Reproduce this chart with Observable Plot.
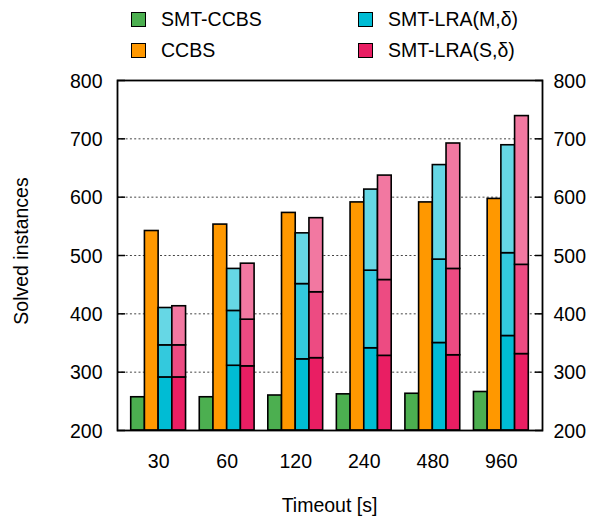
<!DOCTYPE html>
<html><head><meta charset="utf-8">
<script src="https://cdn.jsdelivr.net/npm/d3@7"></script>
<script src="https://cdn.jsdelivr.net/npm/@observablehq/plot@0.6"></script>
<style>
body{margin:0;background:#fff;}
#wrap{position:relative;width:590px;height:521px;font-family:"Liberation Sans",Arial,Helvetica,sans-serif;font-size:19.5px;color:#000;overflow:hidden;}
#wrap svg{position:absolute;left:0;top:0;}
.lg{position:absolute;white-space:nowrap;line-height:19px;}
.sw{position:absolute;width:15px;height:15px;box-sizing:border-box;border:1.5px solid #000;}
</style></head><body><div id="wrap"></div>
<script>
// ---- data ----
const timeouts = ["30", "60", "120", "240", "480", "960"];
const seriesNames = ["SMT-CCBS", "CCBS", "SMT-LRA(M,δ)", "SMT-LRA(S,δ)"];
const smtCcbs = [257, 257, 260, 262, 263, 266];
const ccbs = [542, 553, 573, 591, 591, 597];
const lraMLow = [291, 311, 322, 341, 350, 362];
const lraMMid = [346, 405, 451, 474, 493, 504];
const lraMTop = [410, 477, 538, 613, 655, 689];
const lraSLow = [291, 310, 324, 328, 329, 331];
const lraSMid = [346, 390, 437, 458, 477, 484];
const lraSTop = [413, 486, 564, 637, 692, 739];
const yTicks = [200, 300, 400, 500, 600, 700, 800];
const gridTicks = [300, 400, 500, 600, 700];
const yDomain = [200, 800];

// ---- styles ----
const colorKeys = ["SMT-CCBS", "CCBS", "M1", "M2", "M3", "S1", "S2", "S3"];
const colorRange = ["#4caf50", "#ff9800", "#00bcd4", "#33c9dd", "#66d7e5", "#e91e63", "#ed4b82", "#f278a1"];
const legendColors = ["#4caf50", "#ff9800", "#00bcd4", "#e91e63"];

// ---- build records ----
const slotsPerGroup = 5;
const records = [];
timeouts.forEach((t, g) => {
  const base = g * slotsPerGroup + 1;
  records.push({slot: base, y1: yDomain[0], y2: smtCcbs[g], key: "SMT-CCBS"});
  records.push({slot: base + 1, y1: yDomain[0], y2: ccbs[g], key: "CCBS"});
  const m = [yDomain[0], lraMLow[g], lraMMid[g], lraMTop[g]];
  const s = [yDomain[0], lraSLow[g], lraSMid[g], lraSTop[g]];
  for (let i = 0; i < 3; i++) {
    records.push({slot: base + 2, y1: m[i], y2: m[i + 1], key: "M" + (i + 1)});
    records.push({slot: base + 3, y1: s[i], y2: s[i + 1], key: "S" + (i + 1)});
  }
});
const nSlots = timeouts.length * slotsPerGroup + 1;
const groupCenters = timeouts.map((t, g) => g * slotsPerGroup + 3);

const chart = Plot.plot({
  width: 590,
  height: 521,
  marginLeft: 117,
  marginRight: 48,
  marginTop: 80,
  marginBottom: 91,
  style: {fontFamily: '"Liberation Sans", Arial, Helvetica, sans-serif', fontSize: "19.5px", background: "transparent", color: "#000"},
  x: {domain: [0, nSlots], axis: null},
  y: {domain: yDomain, axis: null},
  color: {type: "ordinal", domain: colorKeys, range: colorRange},
  marks: [
    Plot.gridY(gridTicks, {stroke: "#444", strokeOpacity: 1, strokeWidth: 1, strokeDasharray: "2,2.3"}),
    Plot.rect(records, {x1: "slot", x2: d => d.slot + 1, y1: "y1", y2: "y2", fill: "key", stroke: "#000", strokeWidth: 1.6}),
    Plot.frame({stroke: "#000", strokeWidth: 1.8}),
    Plot.axisY({anchor: "left", ticks: yTicks, tickSize: -8, fill: "none", label: null, strokeWidth: 1.5}),
    Plot.axisY({anchor: "right", ticks: yTicks, tickSize: -8, fill: "none", label: null, strokeWidth: 1.5}),
    Plot.axisY({anchor: "left", ticks: yTicks, tickSize: 0, tickPadding: 15, dy: 1, label: null}),
    Plot.axisY({anchor: "right", ticks: yTicks, tickSize: 0, tickPadding: 11, dy: 1, label: null}),
    Plot.axisX({ticks: groupCenters, tickFormat: d => timeouts[(d - 3) / slotsPerGroup], tickSize: 0, tickPadding: 23.5, label: null})
  ]
});

const wrap = document.getElementById("wrap");
wrap.appendChild(chart);

// legend
const legendPos = [[131, 12, 161], [131, 43, 161], [358, 12, 388], [358, 43, 388]];
seriesNames.forEach((name, i) => {
  const [sx, sy, tx] = legendPos[i];
  const sw = document.createElement("div");
  sw.className = "sw";
  sw.style.left = sx + "px"; sw.style.top = sy + "px";
  sw.style.background = legendColors[i];
  wrap.appendChild(sw);
  const tl = document.createElement("div");
  tl.className = "lg";
  tl.style.left = tx + "px"; tl.style.top = (sy - 2) + "px";
  tl.textContent = name;
  wrap.appendChild(tl);
});

// axis titles
const yt = document.createElement("div");
yt.className = "lg";
yt.textContent = "Solved instances";
yt.style.left = "20.5px"; yt.style.top = "250.5px";
yt.style.transform = "translate(-50%,-50%) rotate(-90deg)";
wrap.appendChild(yt);

const xt = document.createElement("div");
xt.className = "lg";
xt.textContent = "Timeout [s]";
xt.style.left = "329.5px"; xt.style.top = "496px";
xt.style.transform = "translateX(-50%)";
wrap.appendChild(xt);
</script>
</body></html>
